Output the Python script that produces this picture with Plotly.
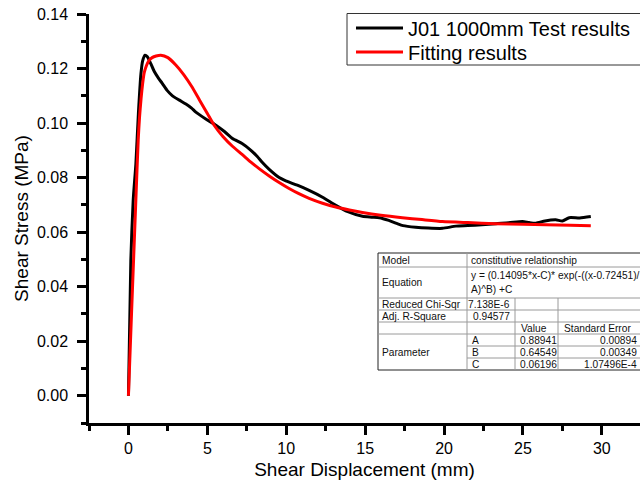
import plotly.graph_objects as go

# ---- data ----
test_x = [0, 0.15, 0.3, 0.47, 0.63, 0.79, 0.9, 1.05, 1.2, 1.4, 1.63, 1.9, 2.15, 2.45, 2.79,
          3.2, 3.64, 4.0, 4.27, 4.9, 5.54, 6.1, 6.59, 7.2, 7.76, 8.15, 8.49, 8.92, 9.55,
          9.97, 10.7, 11.45, 12.3, 13.14, 13.9, 14.83, 15.4, 15.9, 16.5, 17.0, 17.4,
          18.2, 19.0, 19.9, 20.75, 21.5, 22.4, 23.28, 24.1, 24.97, 25.4, 25.82, 26.4,
          27.08, 27.5, 27.93, 28.6, 29.3]
test_y = [0, 0.0496, 0.0716, 0.085, 0.1035, 0.118, 0.1228, 0.1249, 0.1243, 0.122, 0.119,
          0.1165, 0.1145, 0.112, 0.110, 0.1085, 0.107, 0.1055, 0.104, 0.1015, 0.0992,
          0.0968, 0.0943, 0.0925, 0.090, 0.0878, 0.0855, 0.0830, 0.0800, 0.0788, 0.0772,
          0.0753, 0.0728, 0.0698, 0.0675, 0.0658, 0.0655, 0.0653, 0.0643, 0.0632, 0.0624,
          0.0618, 0.0615, 0.0614, 0.0622, 0.0624, 0.0627, 0.0631, 0.0634, 0.0639, 0.0635,
          0.0633, 0.0641, 0.0645, 0.0641, 0.0653, 0.0652, 0.0657]

fit_x = [0, 0.2, 0.47, 0.62, 0.7, 0.8, 0.9, 1.0, 1.15, 1.31, 1.5, 1.75, 2.05, 2.5, 3.0,
         3.5, 4.0, 4.5, 5.0, 5.43, 6.0, 6.59, 7.2, 7.76, 8.3, 8.92, 9.55, 10.18, 10.8,
         11.45, 12.3, 13.14, 14.0, 14.83, 16.0, 17.36, 18.6, 19.9, 21.5, 23.28, 25.0,
         26.45, 28.0, 29.3]
fit_y = [0, 0.031, 0.072, 0.094, 0.102, 0.109, 0.1145, 0.1185, 0.1212, 0.123, 0.1240,
         0.1246, 0.1249, 0.1240, 0.1213, 0.1178, 0.1135, 0.1085, 0.1035, 0.0992, 0.0950,
         0.0915, 0.0885, 0.0857, 0.0832, 0.0806, 0.0782, 0.0760, 0.0741, 0.0724, 0.0706,
         0.0692, 0.0681, 0.0672, 0.0662, 0.0653, 0.0646, 0.0639, 0.0635, 0.0631, 0.0629,
         0.0627, 0.0625, 0.0623]

series_names = ["J01 1000mm Test results", "Fitting results"]

# fit report table text
tbl_model = ["Model", "constitutive relationship"]
tbl_equation = ["Equation", "y = (0.14095*x-C)* exp(-((x-0.72451)/", "A)^B) +C"]
tbl_chi = ["Reduced Chi-Sqr", "7.138E-6"]
tbl_r2 = ["Adj. R-Square", "0.94577"]
tbl_header = ["Value", "Standard Error"]
param_label = "Parameter"
param_names = ["A", "B", "C"]
param_values = ["0.88941", "0.64549", "0.06196"]
param_errors = ["0.00894", "0.00349", "1.07496E-4"]

FONT = "Arial, Liberation Sans, sans-serif"
W, H = 640, 488
L, R, T, B = 89, 0, 14, 65
PW, PH = W - L - R, H - T - B

def xp(px):
    return (px - L) / PW

def yp(py):
    return (H - B - py) / PH

fig = go.Figure()
fig.add_trace(go.Scatter(x=test_x, y=test_y, mode="lines", name=series_names[0],
                         legend="legend", showlegend=True,
                         line=dict(color="black", width=3, shape="spline", smoothing=0.6)))
fig.add_trace(go.Scatter(x=fit_x, y=fit_y, mode="lines", name=series_names[1],
                         legend="legend2", showlegend=True,
                         line=dict(color="#ff0000", width=3, shape="spline", smoothing=0.6)))

shapes = []
# legend frame
shapes.append(dict(type="rect", xref="paper", yref="paper", x0=xp(347), x1=xp(660),
                   y0=yp(13.5), y1=yp(65), line=dict(color="#333", width=1),
                   fillcolor="white", layer="below"))

# ---- table drawn as shapes + text ----
rows = [253, 267, 298, 310, 322, 334, 346, 358, 370]
cols = [378, 467, 515, 558, 648]
grey = "#9a9a9a"

def hline(y, x0, x1, color=grey):
    shapes.append(dict(type="line", xref="paper", yref="paper", x0=xp(x0), x1=xp(x1),
                       y0=yp(y), y1=yp(y), line=dict(color=color, width=1)))

def vline(x, y0, y1, color=grey):
    shapes.append(dict(type="line", xref="paper", yref="paper", x0=xp(x), x1=xp(x),
                       y0=yp(y0), y1=yp(y1), line=dict(color=color, width=1)))

shapes.append(dict(type="rect", xref="paper", yref="paper", x0=xp(cols[0]), x1=xp(cols[-1]),
                   y0=yp(rows[0]), y1=yp(rows[-1]), line=dict(color="#222", width=1),
                   fillcolor="white", layer="above"))
for r in rows[1:6]:
    hline(r, cols[0], cols[-1])
for r in rows[6:8]:
    hline(r, cols[1], cols[-1])
vline(cols[1], rows[0], rows[-1])
vline(cols[2], rows[2], rows[-1])
vline(cols[3], rows[2], rows[-1])

anns = []
def txt(s, x, y, anchor="left"):
    anns.append(dict(text=s, xref="paper", yref="paper", x=xp(x), y=yp(y), xanchor=anchor,
                     yanchor="middle", showarrow=False,
                     font=dict(family=FONT, size=10.2, color="#111")))

mid = lambda i: (rows[i] + rows[i + 1]) / 2
txt(tbl_model[0], cols[0] + 2, mid(0))
txt(tbl_model[1], cols[1] + 2, mid(0))
txt(tbl_equation[0], cols[0] + 2, mid(1))
txt(tbl_equation[1], cols[1] + 2, rows[1] + 8.5)
txt(tbl_equation[2], cols[1] + 2, rows[1] + 22)
txt(tbl_chi[0], cols[0] + 2, mid(2))
txt(tbl_chi[1], cols[2] - 3, mid(2), "right")
txt(tbl_r2[0], cols[0] + 2, mid(3))
txt(tbl_r2[1], cols[2] - 3, mid(3), "right")
txt(tbl_header[0], cols[2] + 4, mid(4))
txt(tbl_header[1], cols[3] + 4, mid(4))
txt(param_label, cols[0] + 2, (rows[5] + rows[8]) / 2)
for i in range(3):
    txt(param_names[i], cols[1] + 3, mid(5 + i))
    txt(param_values[i], cols[2] + 3, mid(5 + i))
    txt(param_errors[i], 639, mid(5 + i), "right")

axis_common = dict(showline=True, linecolor="black", linewidth=2.5, ticks="outside",
                   ticklen=9, tickwidth=2.5, tickcolor="black", showgrid=False,
                   zeroline=False, mirror=False,
                   tickfont=dict(family=FONT, size=16, color="black"))

leg_common = dict(xanchor="left", yanchor="middle", borderwidth=0, bgcolor="rgba(0,0,0,0)",
                  font=dict(family=FONT, size=20, color="black"), itemwidth=47, visible=True)

fig.update_layout(
    width=W, height=H, margin=dict(l=L, r=R, t=T, b=B),
    paper_bgcolor="white", plot_bgcolor="white",
    font=dict(family=FONT, color="black"),
    showlegend=True,
    xaxis=dict(range=[-2.5, -2.5 + PW / 15.78], tick0=0, dtick=5,
               minor=dict(ticks="outside", ticklen=5, tickwidth=2.5, tickcolor="black", dtick=2.5, tick0=0),
               title=dict(text="Shear Displacement (mm)", font=dict(family=FONT, size=19), standoff=7),
               ticklabelstandoff=0, **axis_common),
    yaxis=dict(range=[-0.01, 0.14], tick0=0, dtick=0.02, tickformat=".2f",
               minor=dict(ticks="outside", ticklen=5, tickwidth=2.5, tickcolor="black", dtick=0.01, tick0=0),
               title=dict(text="Shear Stress (MPa)", font=dict(family=FONT, size=19), standoff=4),
               ticklabelstandoff=6, **axis_common),
    legend=dict(x=xp(351), y=yp(28), **leg_common),
    legend2=dict(x=xp(351), y=yp(52), **leg_common),
    shapes=shapes, annotations=anns,
)

fig.write_html("out.html")
